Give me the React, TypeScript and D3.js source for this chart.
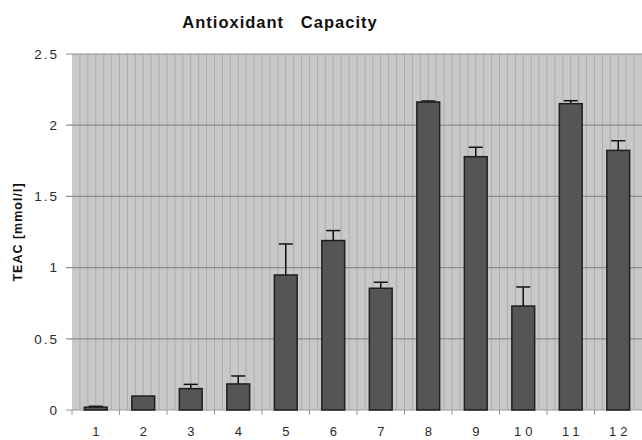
import React from "react";
import * as d3 from "d3";

const categories = ["1", "2", "3", "4", "5", "6", "7", "8", "9", "10", "11", "12"];
const values = [0.02, 0.098, 0.15, 0.183, 0.948, 1.19, 0.855, 2.163, 1.779, 0.73, 2.151, 1.823];
const errors = [0.006, 0.0, 0.03, 0.056, 0.218, 0.07, 0.042, 0.007, 0.066, 0.134, 0.021, 0.068];
const yTicks = [0, 0.5, 1, 1.5, 2, 2.5];
const yTickLabels = ["0", "0.5", "1", "1.5", "2", "2.5"];

const W = 642;
const H = 440;
const margin = { left: 72, right: 0, top: 54, bottom: 30 };

export default function App() {
  const x = d3
    .scaleBand<string>()
    .domain(categories)
    .range([margin.left, W - margin.right])
    .paddingInner(0)
    .paddingOuter(0);
  const y = d3.scaleLinear().domain([0, 2.5]).range([H - margin.bottom, margin.top]);
  const bw = x.bandwidth();
  const barW = bw * 0.48;
  const stripeStep = bw / 6;
  const stripes = d3.range(margin.left + stripeStep, W, stripeStep);
  const font = "'Liberation Sans', Arial, Helvetica, sans-serif";

  return (
    <svg
      width={W}
      height={H}
      style={{ position: "absolute", left: 0, top: 0, background: "#fff" }}
      fontFamily={font}
    >
      <rect x={margin.left} y={y(2.5)} width={W - margin.left} height={y(0) - y(2.5)} fill="#c8c8c8" />
      {stripes.map((sx, i) => (
        <line key={"s" + i} x1={sx} x2={sx} y1={y(2.5)} y2={y(0)} stroke="#adadad" strokeWidth={1} />
      ))}
      {yTicks.map((t, i) => (
        <g key={"g" + i}>
          <line x1={margin.left - 6} x2={W} y1={y(t)} y2={y(t)} stroke={i === 0 ? "#9a9a9a" : "#8e8e8e"} strokeWidth={1.2} />
          <text
            x={59}
            y={y(t)}
            dy="0.36em"
            textAnchor="end"
            fontSize={13.5}
            fill="#2a2a2a"
            letterSpacing={2}
          >
            {yTickLabels[i]}
          </text>
        </g>
      ))}
      {categories.map((c, i) => (
        <line key={"xt" + i} x1={x(c)!} x2={x(c)!} y1={y(0)} y2={y(0) + 5} stroke="#9a9a9a" />
      ))}
      {categories.map((c, i) => {
        const cx = x(c)! + bw / 2;
        const top = y(values[i]);
        const errTop = y(values[i] + errors[i]);
        return (
          <g key={"b" + i}>
            {errors[i] > 0.001 && (
              <g stroke="#111" strokeWidth={1.5}>
                <line x1={cx} x2={cx} y1={top} y2={errTop} />
                <line x1={cx - 7} x2={cx + 7} y1={errTop} y2={errTop} />
              </g>
            )}
            <rect
              x={cx - barW / 2}
              y={top}
              width={barW}
              height={y(0) - top}
              fill="#555555"
              stroke="#1e1e1e"
              strokeWidth={1.5}
            />
          </g>
        );
      })}
      {categories.map((c, i) => (
        <text
          key={"xl" + i}
          x={x(c)! + bw / 2 + (c.length > 1 ? 2 : 0)}
          y={436}
          textAnchor="middle"
          fontSize={13}
          fill="#2a2a2a"
          letterSpacing={c.length > 1 ? 4 : 0}
        >
          {c}
        </text>
      ))}
      <text
        x={280}
        y={28}
        textAnchor="middle"
        fontSize={16.5}
        fontWeight="bold"
        fill="#111"
        letterSpacing={1}
        style={{ whiteSpace: "pre" }}
      >
        {"Antioxidant   Capacity"}
      </text>
      <text
        transform={`translate(22, ${(y(0) + y(2.5)) / 2}) rotate(-90)`}
        textAnchor="middle"
        fontSize={12.5}
        fontWeight="bold"
        fill="#111"
        letterSpacing={1}
        style={{ whiteSpace: "pre" }}
      >
        {"TEAC [mmol/l]"}
      </text>
    </svg>
  );
}
